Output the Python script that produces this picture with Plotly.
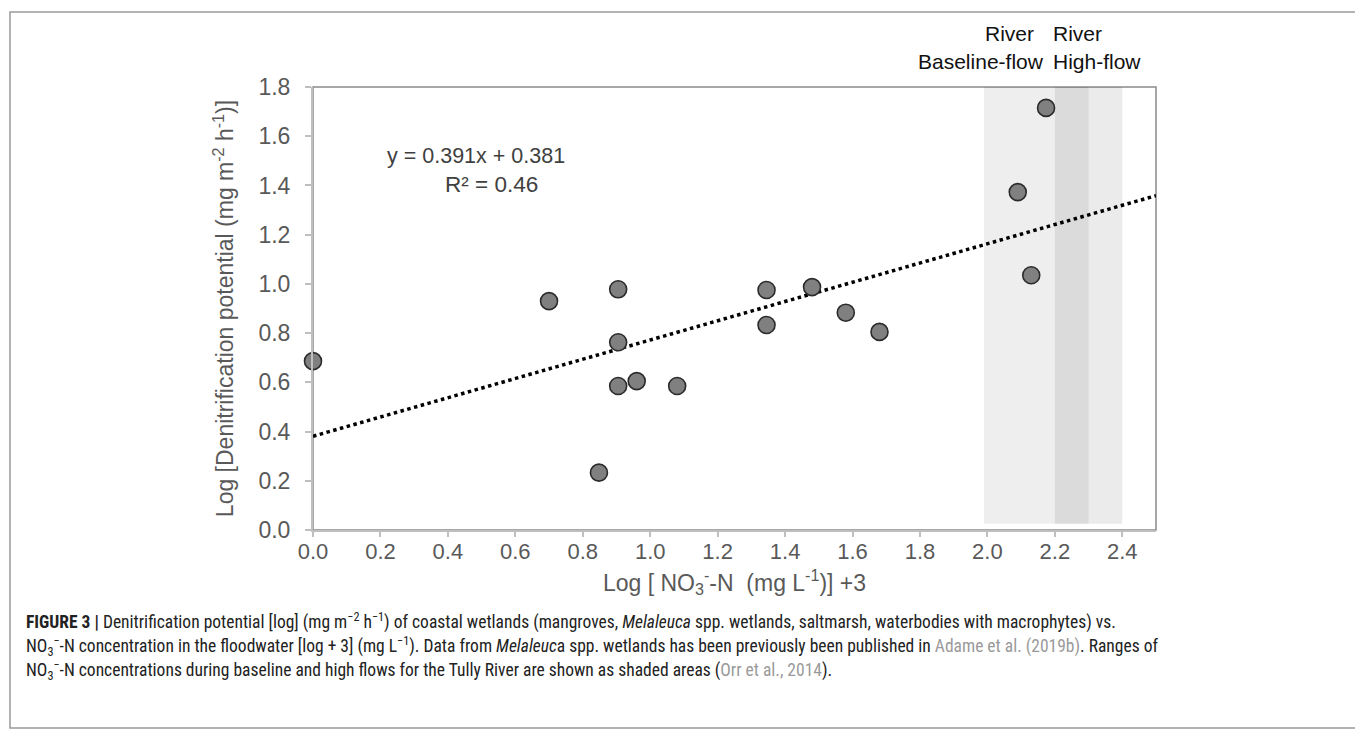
import plotly.graph_objects as go

# ---- data ----
x_vals = [0.0, 0.70, 0.905, 0.905, 0.905, 0.96, 0.848, 1.08, 1.345, 1.345, 1.48, 1.58, 1.68, 2.09, 2.13, 2.174]
y_vals = [0.686, 0.93, 0.978, 0.763, 0.585, 0.605, 0.233, 0.585, 0.975, 0.833, 0.987, 0.883, 0.805, 1.373, 1.035, 1.715]
slope = 0.391
intercept = 0.381
r_squared = 0.46
x_ticks = [0.0, 0.2, 0.4, 0.6, 0.8, 1.0, 1.2, 1.4, 1.6, 1.8, 2.0, 2.2, 2.4]
y_ticks = [0.0, 0.2, 0.4, 0.6, 0.8, 1.0, 1.2, 1.4, 1.6, 1.8]
baseline_range = [1.99, 2.30]
highflow_range = [2.20, 2.40]

W, H = 1363, 734
L, R, T, B = 305, 1148, 79, 522  # plot area pixels

def px(xp):
    return (xp - L) / (R - L)

def py(yp):
    return (B - yp) / (B - T)

FONT = "Liberation Sans, Arial, sans-serif"
fig = go.Figure()

# trend line
tx = [0.0, 2.5]
fig.add_trace(go.Scatter(x=tx, y=[intercept + slope * v for v in tx], mode="lines",
                         line=dict(color="black", width=3.5, dash="dot"),
                         hoverinfo="skip", showlegend=False))
# points
fig.add_trace(go.Scatter(x=x_vals, y=y_vals, mode="markers",
                         marker=dict(size=17, color="#808080", line=dict(color="#2b2b2b", width=1.6)),
                         showlegend=False, cliponaxis=False))

shapes = []
shapes.append(dict(type="rect", xref="x", yref="y", x0=baseline_range[0], x1=baseline_range[1],
                   y0=0.025, y1=1.81, fillcolor="rgba(0,0,0,0.065)", line=dict(width=0), layer="below"))
shapes.append(dict(type="rect", xref="x", yref="y", x0=highflow_range[0], x1=highflow_range[1],
                   y0=0.025, y1=1.8, fillcolor="rgba(0,0,0,0.08)", line=dict(width=0), layer="below"))
shapes.append(dict(type="rect", xref="paper", yref="paper", x0=0, x1=1, y0=0, y1=1,
                   line=dict(color="#8a8a8a", width=1.5), fillcolor="rgba(0,0,0,0)", layer="below"))
shapes.append(dict(type="rect", xref="paper", yref="paper", x0=px(2), x1=px(1358), y0=py(720), y1=py(4),
                   line=dict(color="#9a9a9a", width=1.5), fillcolor="rgba(0,0,0,0)", layer="below"))

lab_font = dict(family=FONT, size=21, color="#111111")
ann = []
ann.append(dict(xref="x", yref="paper", x=2.0, xshift=-4, y=py(25), xanchor="left", yanchor="middle",
                showarrow=False, text="River", font=lab_font))
ann.append(dict(xref="x", yref="paper", x=2.175, y=py(54), xanchor="right", yanchor="middle", showarrow=False,
                text="Baseline-flow", font=lab_font))
ann.append(dict(xref="x", yref="paper", x=2.2, xshift=-4, y=py(25), xanchor="left", yanchor="middle",
                showarrow=False, text="River", font=lab_font))
ann.append(dict(xref="x", yref="paper", x=2.2, xshift=-4, y=py(54), xanchor="left", yanchor="middle",
                showarrow=False, text="High-flow", font=lab_font))
ann.append(dict(xref="paper", yref="paper", x=px(468), y=py(148), xanchor="center", yanchor="middle",
                showarrow=False, text=f"y = {slope}x + {intercept}",
                font=dict(family=FONT, size=21.5, color="#404040")))
ann.append(dict(xref="paper", yref="paper", x=px(483), y=py(176), xanchor="center", yanchor="middle",
                showarrow=False, text=f"R² = {r_squared}",
                font=dict(family=FONT, size=22.5, color="#404040")))

cap_font = dict(family="Liberation Sans Narrow, Arial Narrow, Roboto Condensed, Liberation Sans, sans-serif",
                size=17.5, color="#222222")
lines = [
    "<b>FIGURE 3 |</b> Denitrification potential [log] (mg m<sup>−2</sup> h<sup>−1</sup>) of coastal wetlands (mangroves, <i>Melaleuca</i> spp. wetlands, saltmarsh, waterbodies with macrophytes) vs.",
    "NO<sub>3</sub><sup>−</sup>-N concentration in the floodwater [log + 3] (mg L<sup>−1</sup>). Data from <i>Melaleuc</i>a spp. wetlands has been previously been published in <span style='color:#9a9a9a'>Adame et al. (2019b)</span>. Ranges of",
    "NO<sub>3</sub><sup>−</sup>-N concentrations during baseline and high flows for the Tully River are shown as shaded areas (<span style='color:#9a9a9a'>Orr et al., 2014</span>).",
]
ys = [613, 638, 662]
for t, yy in zip(lines, ys):
    ann.append(dict(xref="paper", yref="paper", x=px(16), y=py(yy), xanchor="left", yanchor="middle",
                    showarrow=False, align="left", text=t, font=cap_font))

tick_font = dict(family=FONT, size=22, color="#595959")
fig.update_layout(
    width=W, height=H,
    margin=dict(l=L, r=W - R, t=T, b=H - B, pad=0),
    paper_bgcolor="white", plot_bgcolor="white",
    shapes=shapes, annotations=ann,
    xaxis=dict(range=[0, 2.5], tickvals=x_ticks, ticktext=[f"{v:.1f}" for v in x_ticks],
               showgrid=False, zeroline=False, showline=True, linecolor="#bfbfbf", linewidth=2,
               ticks="outside", ticklen=5, tickcolor="#bfbfbf", tickwidth=1.5, tickfont=tick_font,
               ticklabelstandoff=-4,
               title=dict(text="Log [ NO<sub>3</sub><sup>-</sup>-N  (mg L<sup>-1</sup>)] +3", standoff=11,
                          font=dict(family=FONT, size=23, color="#595959"))),
    yaxis=dict(range=[0, 1.8], tickvals=y_ticks, ticktext=[f"{v:.1f}" for v in y_ticks],
               showgrid=False, zeroline=False, showline=True, linecolor="#bfbfbf", linewidth=2,
               ticks="outside", ticklen=6, tickcolor="#bfbfbf", tickwidth=1.5,
               tickfont=dict(family=FONT, size=23, color="#595959"),
               ticklabelstandoff=10,
               title=dict(text="Log [Denitrification potential (mg m<sup>-2</sup> h<sup>-1</sup>)]", standoff=18,
                          font=dict(family=FONT, size=23, color="#595959"))),
)

fig.write_html("out.html")
